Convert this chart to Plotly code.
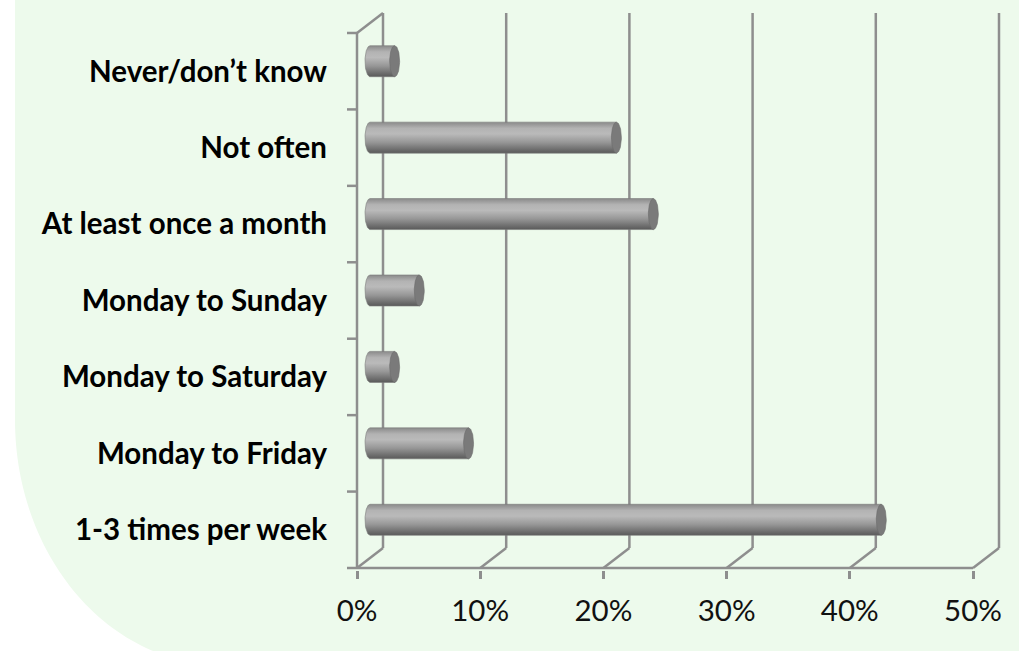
import numpy as np
import plotly.graph_objects as go

# ---------------- data ----------------
categories = ["1-3 times per week", "Monday to Friday", "Monday to Saturday",
              "Monday to Sunday", "At least once a month", "Not often",
              "Never/don’t know"]
values = [41.5, 8, 2, 4, 23, 20, 2]
tick_values = [0, 10, 20, 30, 40, 50]
tick_labels = ["0%", "10%", "20%", "30%", "40%", "50%"]

# ---------------- geometry ----------------
W, H = 1019, 651
L, R, T, B = 340, 0, 0, 81
PX_PCT = 12.32           # pixels per percent
PX_CAT = 76.43           # pixels per category band
x_lo = -(357 - L) / PX_PCT
x_hi = x_lo + (W - L - R) / PX_PCT
y_lo = -0.5 - (H - B - 568) / PX_CAT
y_hi = y_lo + (H - T - B) / PX_CAT
DX = 26 / PX_PCT          # depth offset (x)
DY = 20 / PX_CAT          # depth offset (y)
A = 5 / PX_PCT            # ellipse half-width
HH = 15.5 / PX_CAT        # cylinder half-height
GRID = "#8e8e8e"
GW = 2.5

fig = go.Figure()


def seg(xs, ys):
    fig.add_trace(go.Scatter(x=xs, y=ys, mode="lines",
                             line=dict(color=GRID, width=GW),
                             hoverinfo="skip", showlegend=False))


ymin, ymax = -0.5, len(categories) - 0.5
xmax = tick_values[-1]
# back wall vertical gridlines + floor diagonals
for v in tick_values:
    seg([v + DX, v + DX], [ymin + DY, ymax + DY])
    seg([v, v + DX], [ymin, ymin + DY])
# front floor edge
seg([tick_values[0], xmax], [ymin, ymin])
# left wall
seg([0, 0], [ymin, ymax])
seg([0, DX], [ymax, ymax + DY])
# category tick marks on left wall
for k in range(len(categories) + 1):
    seg([-10 / PX_PCT, 0], [k - 0.5, k - 0.5])

# ---------------- cylinders ----------------
body_scale = [[0.0, "#5a5a5a"], [0.12, "#6e6e6e"], [0.35, "#979797"],
              [0.62, "#bababa"], [0.8, "#b3b3b3"], [1.0, "#8a8a8a"]]
t_half = np.linspace(np.pi / 2, 3 * np.pi / 2, 40)
t_full = np.linspace(0, 2 * np.pi, 80)
for i, v in enumerate(values):
    cy = i + DY / 2
    xs = DX / 2
    xe = v + DX / 2
    bx = list(xs + A * np.cos(t_half)) + [xe, xe]
    by = list(cy + HH * np.sin(t_half)) + [cy - HH, cy + HH]
    fig.add_trace(go.Scatter(
        x=bx + [bx[0]], y=by + [by[0]], mode="lines", fill="toself",
        fillgradient=dict(type="vertical", colorscale=body_scale),
        line=dict(color="#7a7a7a", width=0.6),
        hoverinfo="skip", showlegend=False))
    fig.add_trace(go.Scatter(
        x=list(xe + A * np.cos(t_full)), y=list(cy + HH * np.sin(t_full)),
        mode="lines", fill="toself", fillcolor="#7a7a7a",
        line=dict(color="#6c6c6c", width=0.6),
        hoverinfo="skip", showlegend=False))

# ---------------- background green shape ----------------
def to_paper(px, py):
    return (px - L) / (W - L - R), (H - B - py) / (H - T - B)

pts = [(15, -10), (1040, -10), (1040, 700), (222, 700), (222, 665)]
ang = np.linspace(np.pi / 2, np.pi, 60)
for a in ang:
    pts.append((222 + 207 * np.cos(a), 420 + 245 * np.sin(a)))
pts.append((15, -10))
path = "M " + " L ".join("%.5f,%.5f" % to_paper(px, py) for px, py in pts) + " Z"
fig.add_shape(type="path", path=path, xref="paper", yref="paper",
              fillcolor="#EDFAEC", line=dict(width=0), layer="below")

fig.update_layout(
    width=W, height=H,
    margin=dict(l=L, r=R, t=T, b=B, pad=0),
    paper_bgcolor="white", plot_bgcolor="rgba(0,0,0,0)",
    showlegend=False,
    xaxis=dict(range=[x_lo, x_hi], showgrid=False, zeroline=False,
               showline=False, tickvals=tick_values, ticktext=tick_labels,
               ticks="outside", ticklen=8, tickwidth=GW, tickcolor=GRID,
               ticklabelstandoff=7, fixedrange=True,
               tickfont=dict(family="Lato", size=29.5, color="#111111")),
    yaxis=dict(range=[y_lo, y_hi], showgrid=False, zeroline=False,
               showline=False, tickvals=list(range(len(categories))),
               ticktext=categories, ticks="", ticklabelstandoff=12,
               fixedrange=True,
               tickfont=dict(family="Lato", size=29.5, color="#000000",
                             weight="bold")),
)

fig.write_html("out.html",
               config={"displayModeBar": False},
               post_script="document.body.style.margin='0px';"
                           "document.body.style.padding='0px';")
